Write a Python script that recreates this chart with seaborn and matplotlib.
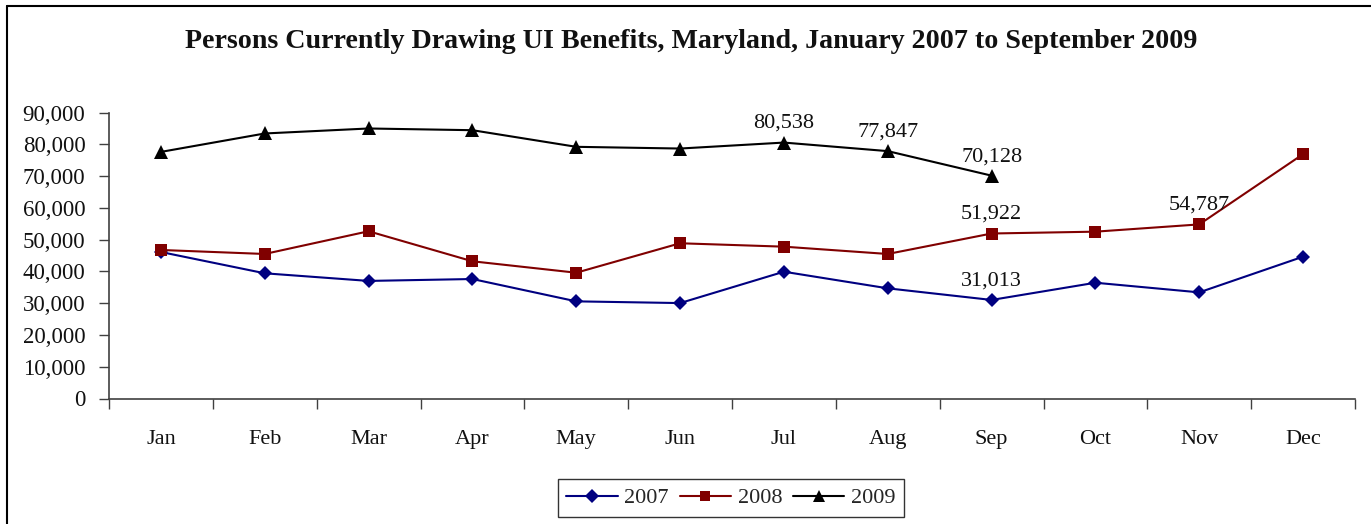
import matplotlib
matplotlib.use('Agg')
import matplotlib.pyplot as plt
import seaborn as sns
import pandas as pd
from matplotlib.ticker import FuncFormatter, FixedLocator, NullFormatter
from matplotlib.lines import Line2D

# ---------------- data ----------------
months = ['Jan', 'Feb', 'Mar', 'Apr', 'May', 'Jun',
          'Jul', 'Aug', 'Sep', 'Oct', 'Nov', 'Dec']
years = ['2007', '2008', '2009']
values_2007 = [46100, 39400, 37000, 37600, 30570, 30030,
               39900, 34670, 31013, 36430, 33400, 44630]
values_2008 = [46740, 45480, 52630, 43180, 39580, 48850,
               47780, 45480, 51922, 52500, 54787, 76900]
values_2009 = [77600, 83400, 84970, 84430, 79200, 78660,
               80538, 77847, 70128]
# labelled points: (year, month)
labelled = [('2007', 'Sep'), ('2008', 'Sep'), ('2008', 'Nov'),
            ('2009', 'Jul'), ('2009', 'Aug'), ('2009', 'Sep')]
y_ticks = [0, 10000, 20000, 30000, 40000, 50000, 60000, 70000, 80000, 90000]
title = 'Persons Currently Drawing UI Benefits, Maryland, January 2007 to September 2009'

colors = ['#000080', '#800000', '#000000']
markers = ['D', 's', '^']
marker_sizes = [7.6, 8.3, 9.5]

# ---------------- build frame ----------------
series = {'2007': values_2007, '2008': values_2008, '2009': values_2009}
rows = []
for yr in years:
    for m, v in zip(months, series[yr]):
        rows.append({'Month': m, 'Persons': v, 'Year': yr})
df = pd.DataFrame(rows)
df['pos'] = df['Month'].map({m: i for i, m in enumerate(months)})

# ---------------- style ----------------
sns.set_theme(style='white')
plt.rcParams['font.family'] = ['Liberation Serif', 'DejaVu Serif']

fig = plt.figure(figsize=(13.71, 5.24), dpi=100)
ax = fig.add_axes([109 / 1371, 1 - 398.5 / 524, (1355 - 109) / 1371, (398.5 - 112.5) / 524])

sns.lineplot(data=df, x='pos', y='Persons', hue='Year', style='Year',
             hue_order=years, style_order=years,
             markers=markers, dashes=False, palette=colors,
             linewidth=1.5, markeredgewidth=0, ax=ax, legend=False, sort=False)

for ln, ms in zip(ax.lines, marker_sizes):
    ln.set_markersize(ms)

# annotations
for yr, m in labelled:
    idx = months.index(m)
    val = series[yr][idx]
    ax.annotate(f'{val:,}', xy=(idx, val), xytext=(0, 10.5), textcoords='offset points',
                ha='center', va='baseline', fontsize=16, color='#111111')

# axes
ax.set_xlim(-0.5, len(months) - 0.5)
ax.set_ylim(0, 90000)
ax.set_yticks(y_ticks)
ax.yaxis.set_major_formatter(FuncFormatter(lambda v, p: f'{int(v):,}'))
ax.xaxis.set_major_locator(FixedLocator([i - 0.5 for i in range(len(months) + 1)]))
ax.xaxis.set_major_formatter(NullFormatter())
ax.xaxis.set_minor_locator(FixedLocator(list(range(len(months)))))
ax.set_xticklabels(months, minor=True)
ax.tick_params(axis='x', which='major', length=7, width=1, color='#404040', direction='out', bottom=True)
ax.tick_params(axis='x', which='minor', length=0, pad=22.5, labelsize=16, bottom=True)
ax.tick_params(axis='y', which='major', length=7, width=1, color='#404040', direction='out',
               pad=10, labelsize=16.5, left=True)
for lbl in ax.get_xticklabels(minor=True) + ax.get_yticklabels():
    lbl.set_color('#111111')
ax.set_xlabel('')
ax.set_ylabel('')
ax.grid(False)
for s in ['top', 'right']:
    ax.spines[s].set_visible(False)
for s in ['left', 'bottom']:
    ax.spines[s].set_color('#404040')
    ax.spines[s].set_linewidth(1.2)

# title
fig.text(691 / 1371, 1 - 42 / 524, title, ha='center', va='center',
         fontsize=20.2, fontweight='bold', color='#111111')

# legend
handles = [Line2D([0], [0], color=c, marker=mk, markersize=ms * 0.9, markeredgewidth=0, lw=1.5)
           for c, mk, ms in zip(colors, markers, marker_sizes)]
leg = fig.legend(handles, years, loc='center', bbox_to_anchor=(731 / 1371, 1 - 498 / 524),
                 ncol=3, frameon=True, fancybox=False, edgecolor='black', fontsize=16,
                 handlelength=2.3, handletextpad=0.3, columnspacing=0.5,
                 borderpad=0.4, borderaxespad=0)
leg.get_frame().set_linewidth(1.0)
leg.get_frame().set_facecolor('white')

# figure border (left and top only visible)
fig.add_artist(Line2D([6.5 / 1371, 6.5 / 1371], [0, 1 - 5.5 / 524], transform=fig.transFigure,
                      color='black', lw=1.5))
fig.add_artist(Line2D([6.5 / 1371, 1], [1 - 5.5 / 524, 1 - 5.5 / 524], transform=fig.transFigure,
                      color='black', lw=1.5))

fig.savefig('out.png', dpi=100, facecolor='white')
